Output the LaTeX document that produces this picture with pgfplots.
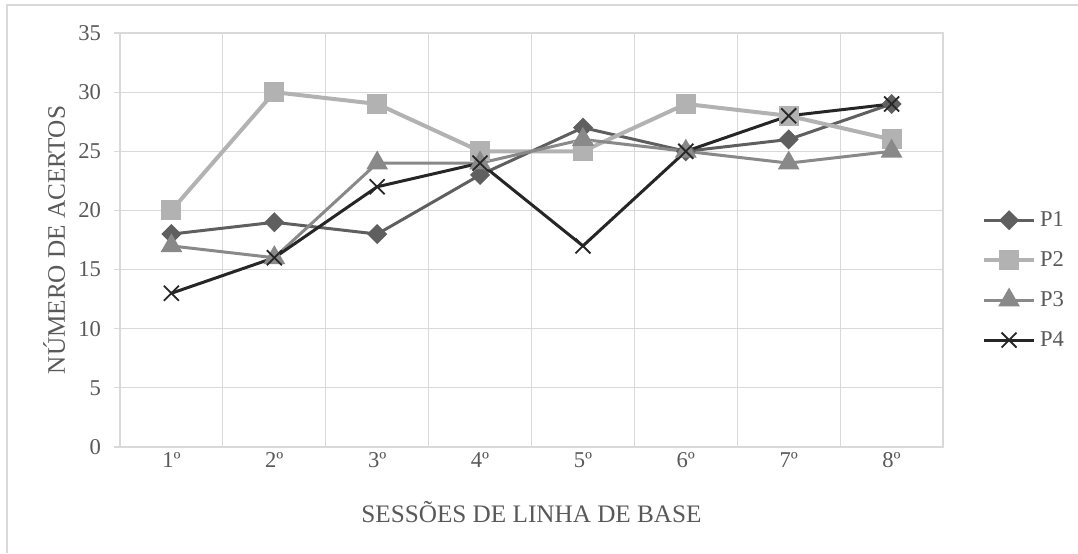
\documentclass[border=0pt]{standalone}
\usepackage{fontspec}
\setmainfont{Liberation Serif}
\usepackage{pgfplots}
\pgfplotsset{compat=1.18}
\definecolor{gridgray}{HTML}{D9D9D9}
\definecolor{txt}{HTML}{595959}
\definecolor{cPa}{HTML}{5F5F5F}
\definecolor{cPb}{HTML}{B2B2B2}
\definecolor{cPc}{HTML}{898989}
\definecolor{cPd}{HTML}{262626}
\newcommand{\chartfont}{\fontsize{11.3}{13.6}\selectfont}
\newcommand{\titlefont}{\fontsize{12.6}{15}\selectfont}

\begin{document}
\begin{tikzpicture}
\useasboundingbox (0,0) rectangle (539pt,276.5pt);
% chart area frame
\draw[gridgray, line width=0.75pt] (3.5pt,0) -- (3.5pt,274pt) -- (539pt,274pt);
\begin{axis}[
  at={(60pt,53pt)}, anchor=south west, scale only axis,
  width=411.5pt, height=207pt,
  xmin=0.5, xmax=8.5, ymin=0, ymax=35,
  xtick={1,...,8},
  xticklabels={1º,2º,3º,4º,5º,6º,7º,8º},
  minor xtick={0.5,1.5,...,8.5},
  ytick={0,5,...,35},
  xminorgrids, ymajorgrids, xmajorgrids=false,
  grid style={gridgray, line width=0.6pt},
  minor grid style={gridgray, line width=0.6pt},
  axis line style={gridgray, line width=0.6pt},
  major x tick style={draw=none},
  minor x tick style={draw=none},
  y tick style={gridgray, line width=0.6pt},
  tick align=outside, ytick pos=left,
  major tick length=3pt,
  /pgf/number format/assume math mode=true,
  tick label style={font=\chartfont, text=txt},
  xticklabel style={anchor=base, yshift=-7pt},
  yticklabel style={xshift=-3pt},
  xlabel={SESSÕES DE LINHA DE BASE},
  ylabel={NÚMERO DE ACERTOS},
  label style={font=\titlefont, text=txt},
  xlabel style={at={(axis description cs:0.5,-0.158)}, anchor=center},
  ylabel style={at={(axis description cs:-0.080,0.5)}, anchor=center, rotate=0},
  legend style={at={(1.047,0.403)}, anchor=west, draw=none, fill=none,
    font=\chartfont, text=txt, row sep=7pt, inner sep=0pt},
  legend cell align=left,
  legend image code/.code={\draw[mark repeat=2,mark phase=2]
    plot coordinates {(0pt,0pt) (12.5pt,0pt) (25pt,0pt)};},
]
\addplot[cPa, line width=1.5pt, mark=square*, mark size=2.8pt,
  mark options={rotate=45, fill=cPa, solid}]
  coordinates {(1,18)(2,19)(3,18)(4,23)(5,27)(6,25)(7,26)(8,29)};
\addlegendentry{P1}
\addplot[cPb, line width=2pt, mark=square*, mark size=4pt,
  mark options={fill=cPb, solid}]
  coordinates {(1,20)(2,30)(3,29)(4,25)(5,25)(6,29)(7,28)(8,26)};
\addlegendentry{P2}
\addplot[cPc, line width=1.5pt, mark=triangle*, mark size=4.8pt,
  mark options={fill=cPc, solid}]
  coordinates {(1,17)(2,16)(3,24)(4,24)(5,26)(6,25)(7,24)(8,25)};
\addlegendentry{P3}
\addplot[cPd, line width=1.5pt, mark=x, mark size=5.3pt,
  mark options={line width=0.9pt, solid}]
  coordinates {(1,13)(2,16)(3,22)(4,24)(5,17)(6,25)(7,28)(8,29)};
\addlegendentry{P4}
\end{axis}
\end{tikzpicture}
\end{document}
